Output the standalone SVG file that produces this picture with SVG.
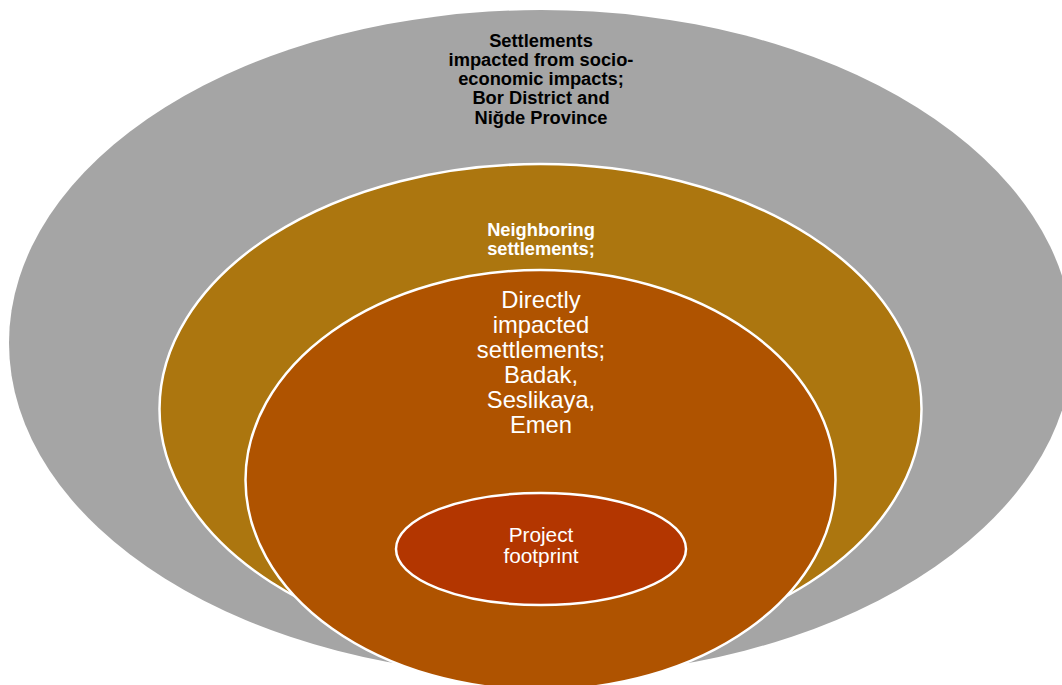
<svg xmlns="http://www.w3.org/2000/svg" width="1062" height="685" viewBox="0 0 1062 685">
<style>
.ring{stroke:#FFFFFF;stroke-width:2.5}
.b{font-family:"Liberation Sans",Arial,sans-serif;font-weight:bold;font-size:18.3px;text-anchor:middle}
.r{font-family:"Liberation Sans",Arial,sans-serif;text-anchor:middle;fill:#FFFFFF}
</style>
<rect width="1062" height="685" fill="#FFFFFF"/>
<g id="outer">
<ellipse cx="541" cy="343" rx="532" ry="333" fill="#A5A5A5"/>
<text class="b" fill="#000000"><tspan x="541" y="46.5">Settlements</tspan><tspan x="541" y="66">impacted from socio-</tspan><tspan x="541" y="85.2">economic impacts;</tspan><tspan x="541" y="104.4">Bor District and</tspan><tspan x="541" y="123.6">Niğde Province</tspan></text>
</g>
<g id="neighboring">
<ellipse class="ring" cx="540.5" cy="409" rx="381" ry="245" fill="#AC760F"/>
<text class="b" fill="#FFFFFF" font-size="17.4"><tspan x="541" y="235.8">Neighboring</tspan><tspan x="541" y="255.4">settlements;</tspan></text>
</g>
<g id="direct">
<ellipse class="ring" cx="540.5" cy="480" rx="295" ry="210" fill="#AF5300"/>
<text class="r" font-size="23.8"><tspan x="541" y="308.3">Directly</tspan><tspan x="541" y="333.3">impacted</tspan><tspan x="541" y="358.3">settlements;</tspan><tspan x="541" y="383.3">Badak,</tspan><tspan x="541" y="408.3">Seslikaya,</tspan><tspan x="541" y="433.3">Emen</tspan></text>
</g>
<g id="footprint">
<ellipse class="ring" cx="541" cy="549" rx="145" ry="56" fill="#B33600"/>
<text class="r" font-size="20.8"><tspan x="541" y="541.7">Project</tspan><tspan x="541" y="562.7">footprint</tspan></text>
</g>
<g id="connectors"/>
</svg>
